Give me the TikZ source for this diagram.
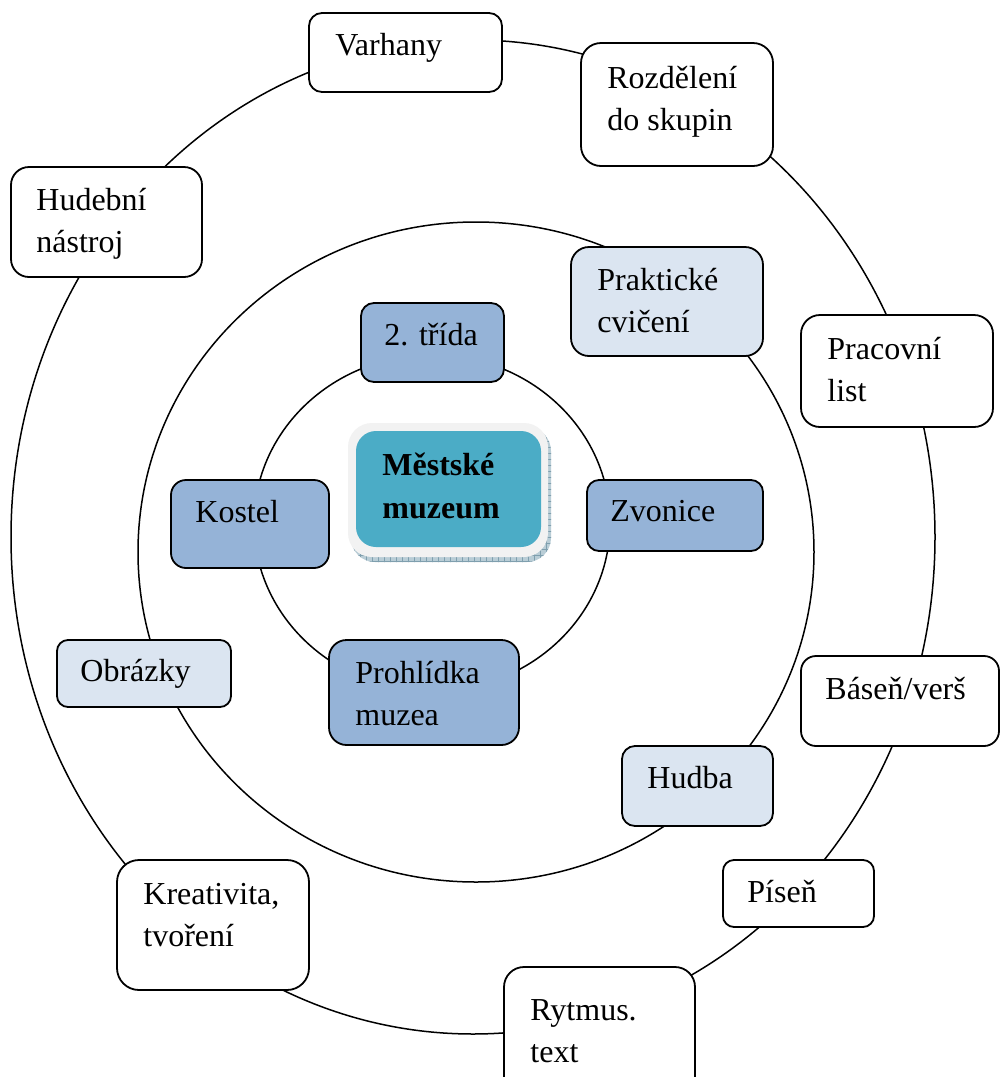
\documentclass[tikz,border=0pt]{standalone}
\usepackage{fontspec}
\setmainfont{Liberation Serif}
\usetikzlibrary{fit,patterns}
\definecolor{midblue}{HTML}{95B3D7}
\definecolor{lightblue}{HTML}{DBE5F1}
\definecolor{tealc}{HTML}{4BACC6}
\definecolor{rimc}{HTML}{F2F2F2}
\definecolor{shadowc}{HTML}{B9CDD6}
\definecolor{shadowline}{HTML}{7F9FAE}
\tikzset{
  ring/.style={draw=black, line width=0.75pt},
  boxsty/.style={draw=black, line width=0.9pt, inner sep=0pt, fill=white},
  txt/.style={inner sep=0pt, anchor=base west, font=\fontsize{16}{21}\selectfont},
}
\newcommand\mybox[7]{\node[boxsty,#6,rounded corners=#7,fit={(#2,#3)(#4,#5)}] (#1) {};}
\newcommand\mytext[4]{\node[txt] (#1) at (#2,#3) {\begin{tabular}[t]{@{}l@{}}#4\end{tabular}};}
\begin{document}
\begin{tikzpicture}[x=0.5pt,y=-0.5pt]
\useasboundingbox (0,0) rectangle (1000,1077);
\clip (0,0) rectangle (1000,1077);
\fill[white] (0,0) rectangle (1000,1077);
% rings
\draw[ring] (473,537) ellipse [x radius=231pt, y radius=248.5pt];
\draw[ring] (476,552) ellipse [x radius=169pt, y radius=165pt];
\draw[ring] (432,523) ellipse [x radius=89pt, y radius=84pt];
% outer ring boxes
\mybox{varhany}{309}{13}{502}{92}{}{6.5pt}
\mytext{varhanyt}{335}{55}{Varhany}
\mybox{rozdeleni}{581}{43}{773}{166}{}{10pt}
\mytext{rozdelenit}{607}{88}{Rozdělení\\do skupin}
\mybox{hudebni}{11}{167}{202}{277}{}{9pt}
\mytext{hudebnit}{36}{210}{Hudební\\nástroj}
\mybox{pracovni}{801}{315}{993}{427}{}{9.5pt}
\mytext{pracovnit}{827}{359}{Pracovní\\list}
\mybox{basen}{801}{656}{999}{746}{}{7.5pt}
\mytext{basent}{825}{699}{Báseň/verš}
\mybox{pisen}{723}{860}{874}{927}{}{5.5pt}
\mytext{pisent}{747}{902}{Píseň}
\mybox{rytmus}{504}{967}{695}{1100}{}{10pt}
\mytext{rytmust}{530}{1020}{Rytmus.\\text}
\mybox{kreativita}{117}{860}{309}{990}{}{11pt}
\mytext{kreativitat}{143}{904}{Kreativita,\\tvoření}
% middle ring boxes
\mybox{prakticke}{571}{247}{763}{356}{fill=lightblue}{9pt}
\mytext{prakticket}{597}{290}{Praktické\\cvičení}
\mybox{obrazky}{57}{640}{231}{707}{fill=lightblue}{5.5pt}
\mytext{obrazkyt}{80}{681}{Obrázky}
\mybox{hudba}{622}{746}{773}{826}{fill=lightblue}{6.5pt}
\mytext{hudbat}{647}{788}{Hudba}
% inner ring boxes
\mybox{trida}{361}{303}{504}{382}{fill=midblue}{6.5pt}
\mytext{tridat}{384}{345}{2. třída}
\mybox{kostel}{171}{480}{329}{568}{fill=midblue}{7.5pt}
\mytext{kostelt}{195}{522}{Kostel}
\mybox{zvonice}{587}{480}{763}{551}{fill=midblue}{6pt}
\mytext{zvonicet}{610}{521}{Zvonice}
\mybox{prohlidka}{329}{640}{519}{745}{fill=midblue}{8.8pt}
\mytext{prohlidkat}{355}{683}{Prohlídka\\muzea}
% centre
\fill[shadowc, rounded corners=12pt] (351,427) rectangle (551,562);
\fill[pattern=grid, pattern color=shadowline, rounded corners=12pt] (351,427) rectangle (551,562);
\fill[rimc, rounded corners=12pt] (348,423) rectangle (548,557);
\node[inner sep=0pt, fill=tealc, rounded corners=10pt, fit={(356,431)(541,547)}] (muzeum) {};
\node[txt, font=\fontsize{16}{21}\selectfont\bfseries] (muzeumt) at (382,475) {\begin{tabular}[t]{@{}l@{}}Městské\\[0.5pt]muzeum\end{tabular}};
\end{tikzpicture}
\end{document}
